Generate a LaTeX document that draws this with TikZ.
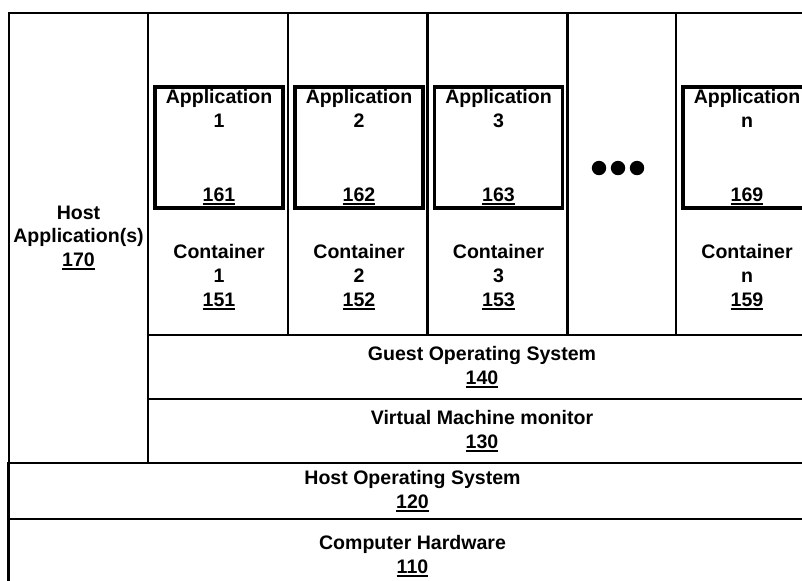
\documentclass[tikz,border=0pt]{standalone}
\usepackage{fontspec}
\setmainfont{Liberation Sans}
\usetikzlibrary{positioning}

\newcommand{\refnum}[1]{\setbox0\hbox{#1}\rlap{\rule[-2.5pt]{\wd0}{1.4pt}}\box0}

\begin{document}
\begin{tikzpicture}[x=0.025cm,y=-0.025cm,
  layer/.style={draw,line width=2pt,inner sep=0pt,align=center,
    font=\fontsize{13.9}{17}\selectfont\bfseries},
  appbox/.style={draw,line width=2.3pt,inner sep=0pt,minimum width=3.2cm,minimum height=3.02cm},
  lbl/.style={inner sep=0pt,align=center,font=\fontsize{13.9}{17}\selectfont\bfseries}]
\useasboundingbox (0,0) rectangle (802,580);
\clip (0,0) rectangle (802,580);
\fill[white] (0,0) rectangle (802,580);

% host side
\node[layer,minimum width=3.475cm,minimum height=11.25cm] (hostapp) at (78.5,238) {Host\\Application(s)\\\refnum{170}};

% containers with one application each
\foreach \k/\x/\app/\ctr in {1/218/161/151,2/358/162/152,3/497.5/163/153,n/746/169/159}{
  \node[layer,minimum width=3.5cm,minimum height=8.05cm] (cont\k) at (\x,174) {};
  \node[appbox] (app\k) at (\x+1,147.5) {};
  \node[lbl,below=0.1cm of app\k.north] (appname\k) {Application\\\k};
  \node[lbl,above=0.1cm of app\k.south] (appnum\k) {\refnum{\app}};
  \node[lbl,below=0.875cm of app\k.south] (contname\k) {Container\\\k\\\refnum{\ctr}};
}
\node[layer,minimum width=2.725cm,minimum height=8.05cm] (more) at (621.5,174) {};
\foreach \d in {-1,0,1}
  \fill (618+19*\d,168) circle (0.18cm);

% layers
\node[layer,minimum width=16.7cm,minimum height=1.6cm] (guest) at (482,367) {Guest Operating System\\\refnum{140}};
\node[layer,minimum width=16.7cm,minimum height=1.6cm] (vmm) at (482,431) {Virtual Machine monitor\\\refnum{130}};
\node[layer,minimum width=20.175cm,minimum height=1.4cm] (hostos) at (412.5,491) {Host Operating System\\\refnum{120}};
\node[layer,minimum width=20.175cm,minimum height=1.875cm] (hw) at (412.5,556.5) {Computer Hardware\\\refnum{110}};
\end{tikzpicture}
\end{document}
